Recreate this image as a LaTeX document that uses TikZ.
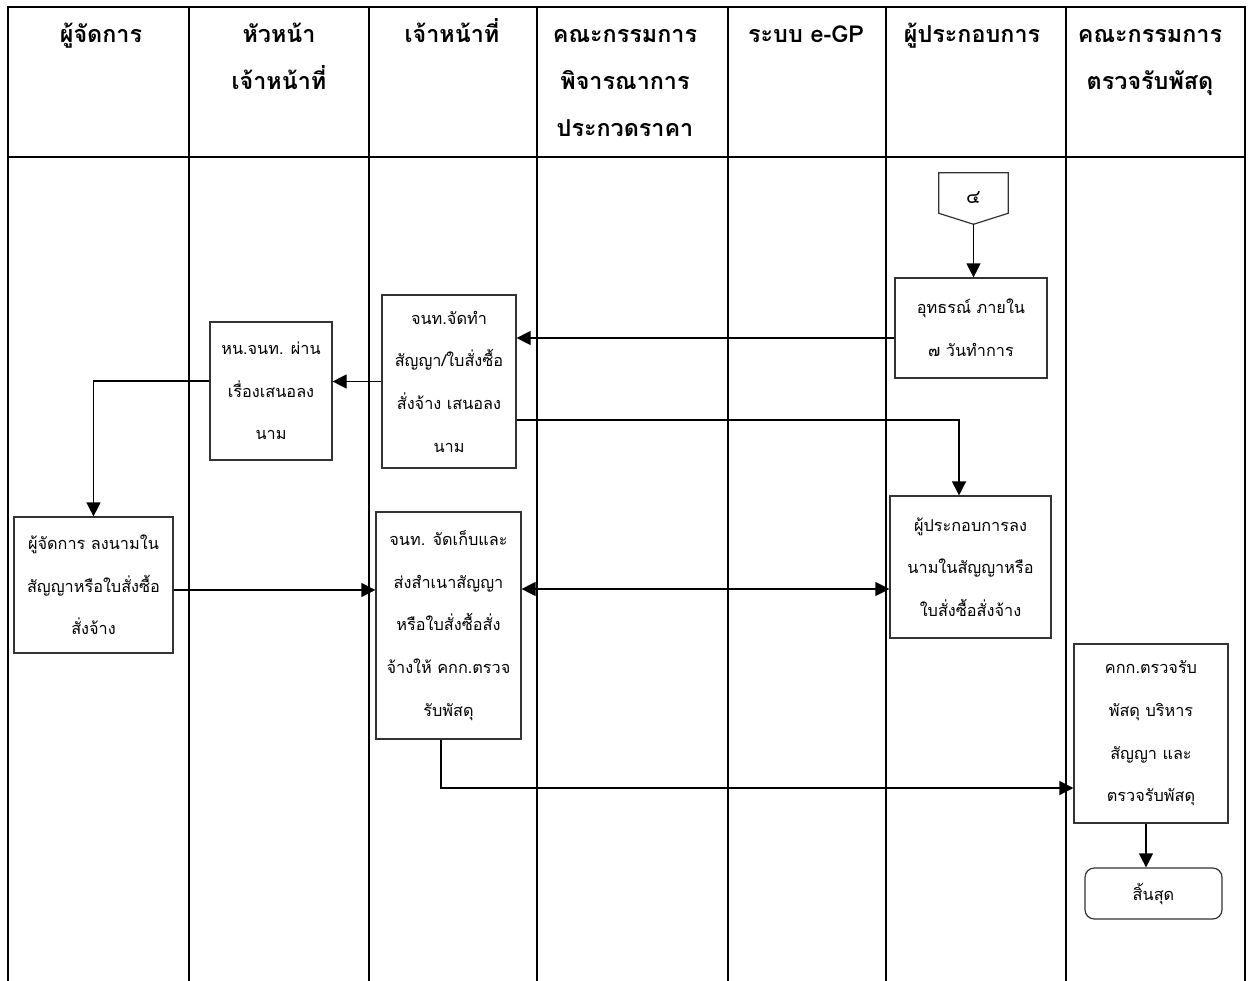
\documentclass[tikz,border=0pt]{standalone}
\usepackage{fontspec}
\setmainfont[Script=Thai]{Loma}
\usetikzlibrary{arrows.meta,calc}
\newcommand{\hstrut}{\rule{0pt}{18pt}}
\tikzset{
  lane/.style={line width=2.2pt,line cap=rect},
  hdr/.style={anchor=north,align=center,inner sep=0pt,font=\fontsize{17.5}{35.25}\selectfont\bfseries},
  box/.style={draw=black!80,line width=0.9pt,align=center,inner sep=0pt,font=\fontsize{12.2}{32}\selectfont},
  arr/.style={line width=0.9pt,-{Triangle[length=10.5pt,width=10.5pt]}},
  darr/.style={line width=0.9pt,{Triangle[length=10.5pt,width=10.5pt]}-{Triangle[length=10.5pt,width=10.5pt]}},
}
\begin{document}
\begin{tikzpicture}[x=0.75pt,y=-0.75pt]
\useasboundingbox (0,0) rectangle (1250,981);
% lanes
\foreach \xx in {8,189,369,537,728,886,1066,1245}{
  \draw[lane] (\xx,7) -- (\xx,981);
}
\draw[lane] (8,7) -- (1245,7);
\draw[lane] (8,157) -- (1245,157);
% headers
\node[hdr] (h1) at (101,18) {\hstrut ผู้จัดการ};
\node[hdr] (h2) at (279,18) {\hstrut หัวหน้า\\เจ้าหน้าที่};
\node[hdr] (h3) at (452,18) {\hstrut เจ้าหน้าที่};
\node[hdr] (h4) at (625,18) {\hstrut คณะกรรมการ\\พิจารณาการ\\ประกวดราคา};
\node[hdr] (h5) at (806,18) {\hstrut ระบบ e-GP};
\node[hdr] (h6) at (972,18) {\hstrut ผู้ประกอบการ};
\node[hdr] (h7) at (1150,18) {\hstrut คณะกรรมการ\\ตรวจรับพัสดุ};
% connector
\node[inner sep=0pt,minimum width=51.75pt,minimum height=30pt,font=\fontsize{14.5}{16}\selectfont] (c4) at (973.5,193) {\raisebox{-7.5pt}[0pt][0pt]{๔}};
\coordinate (c4tip) at ($(c4.south)+(0,11)$);
\draw[black!80,line width=0.9pt] (c4.north west) -- (c4.north east) -- (c4.south east) -- (c4tip) -- (c4.south west) -- cycle;
% boxes
\node[box,minimum width=114pt,minimum height=75pt] (appeal) at (971,328) {อุทธรณ์ ภายใน\\๗ วันทำการ};
\node[box,minimum width=100.5pt,minimum height=129.75pt] (prep) at (449,381.5) {จนท.จัดทำ\\สัญญา/ใบสั่งซื้อ\\สั่งจ้าง เสนอลง\\นาม};
\node[box,minimum width=91.5pt,minimum height=103.5pt] (head) at (271,391) {หน.จนท. ผ่าน\\เรื่องเสนอลง\\นาม};
\node[box,minimum width=119.25pt,minimum height=102pt] (mgr) at (93.5,585) {ผู้จัดการ ลงนามใน\\สัญญาหรือใบสั่งซื้อ\\สั่งจ้าง};
\node[box,minimum width=108.75pt,minimum height=170.25pt] (store) at (448.5,625.5) {จนท. จัดเก็บและ\\ส่งสำเนาสัญญา\\หรือใบสั่งซื้อสั่ง\\จ้างให้ คกก.ตรวจ\\รับพัสดุ};
\node[box,minimum width=120.75pt,minimum height=106.5pt] (vendor) at (970.5,567) {ผู้ประกอบการลง\\นามในสัญญาหรือ\\ใบสั่งซื้อสั่งจ้าง};
\node[box,minimum width=115.5pt,minimum height=134.25pt] (comm) at (1151,733.5) {คกก.ตรวจรับ\\พัสดุ บริหาร\\สัญญา และ\\ตรวจรับพัสดุ};
\node[box,rounded corners=7pt,minimum width=102.75pt,minimum height=38.25pt] (endn) at (1153.5,893.5) {สิ้นสุด};
% arrows
\draw[arr] (c4tip) -- (c4tip |- appeal.north);
\draw[arr] ([yshift=-7.5pt]appeal.west) -- ([yshift=-7.5pt]appeal.west -| prep.east);
\draw[arr] (prep.west) -- (prep.west -| head.east);
\draw[arr] ([yshift=7.5pt]head.west) -| (mgr.north);
\draw[arr] ([yshift=-3.75pt]mgr.east) -- ([yshift=-3.75pt]mgr.east -| store.west);
\draw[arr] ([yshift=-28.9pt]prep.east) -| ([xshift=-8.6pt]vendor.north);
\draw[darr] ([yshift=-16.5pt]vendor.west -| store.east) -- ([yshift=-16.5pt]vendor.west);
\draw[arr] ([xshift=-5.6pt]store.south) |- ([yshift=-40.9pt]comm.west);
\draw[arr] ([xshift=-3.75pt]comm.south) -- ([xshift=-3.75pt]comm.south |- endn.north);
\end{tikzpicture}
\end{document}
